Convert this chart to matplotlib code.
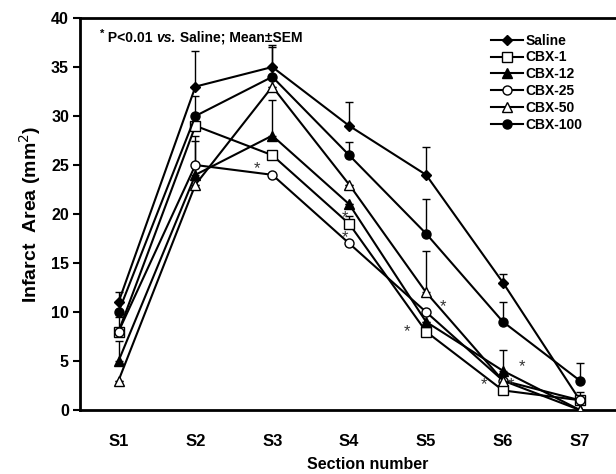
import matplotlib
matplotlib.use("Agg")
import matplotlib.pyplot as plt
import numpy as np

sections = ["S1", "S2", "S3", "S4", "S5", "S6", "S7"]
series_names = ["Saline", "CBX-1", "CBX-12", "CBX-25", "CBX-50", "CBX-100"]
saline = [11, 33, 35, 29, 24, 13, 1]
cbx1 = [8, 29, 26, 19, 8, 2, 1]
cbx12 = [5, 24, 28, 21, 9, 4, 0]
cbx25 = [8, 25, 24, 17, 10, 3, 1]
cbx50 = [3, 23, 33, 23, 12, 3, 0]
cbx100 = [10, 30, 34, 26, 18, 9, 3]
# upper SEM
saline_err = [1.0, 3.6, 2.2, 2.4, 2.8, 0.9, 0.0]
cbx1_err = [1.5, 0.0, 0.0, 0.8, 0.0, 0.4, 0.0]
cbx12_err = [2.0, 3.5, 3.6, 0.0, 0.0, 2.1, 0.0]
cbx25_err = [0.0, 3.0, 0.0, 0.0, 0.0, 0.0, 0.8]
cbx50_err = [0.0, 0.0, 0.0, 0.0, 4.2, 0.0, 0.0]
cbx100_err = [1.0, 2.0, 3.0, 1.3, 3.5, 2.0, 1.8]

# significance stars (section index, y position, x offset)
star_x = [3, 4, 4, 5, 5, 6, 6, 6]
star_y = [24.6, 19.6, 17.6, 8.0, 10.6, 2.6, 4.4, 2.6]
star_dx = [-0.2, -0.05, -0.05, -0.25, 0.22, -0.25, 0.25, 0.1]

series = [saline, cbx1, cbx12, cbx25, cbx50, cbx100]
errs = [saline_err, cbx1_err, cbx12_err, cbx25_err, cbx50_err, cbx100_err]
markers = ["D", "s", "^", "o", "^", "o"]
faces = ["black", "white", "black", "white", "white", "black"]
msizes = [5.5, 6.5, 6.5, 6.5, 7, 6.5]

plt.rcParams['font.family'] = ['Liberation Sans', 'DejaVu Sans']
fig = plt.figure(figsize=(6.16, 4.74), dpi=100)
ax = fig.add_axes([0.13, 0.135, 0.87, 0.827])
x = np.arange(1, len(sections) + 1)

for name, y, e, m, fc, ms in zip(series_names, series, errs, markers, faces, msizes):
    ax.errorbar(x, y, yerr=[np.zeros(len(e)), e], fmt='none', ecolor='black',
                elinewidth=1.0, capsize=3, capthick=1.0, zorder=2)
    ax.plot(x, y, color='black', lw=1.5, marker=m, markerfacecolor=fc,
            markeredgecolor='black', markersize=ms, markeredgewidth=1.0,
            label=name, zorder=3)

for sx, sy, dx in zip(star_x, star_y, star_dx):
    ax.text(sx + dx, sy, "*", ha='center', va='center', fontsize=12, color='#333333')

ax.set_xlim(0.5, 7.47)
ax.set_ylim(0, 40)
ax.set_yticks(range(0, 41, 5))
ax.set_xticks(x)
ax.set_xticklabels(sections)
ax.tick_params(axis='x', length=0, pad=17, labelsize=12)
ax.tick_params(axis='y', length=5, width=1.5, direction='out', labelsize=11.5, pad=3)
for lbl in ax.get_xticklabels() + ax.get_yticklabels():
    lbl.set_fontweight('bold')
for sp in ['left', 'bottom', 'top']:
    ax.spines[sp].set_linewidth(2)
ax.spines['right'].set_visible(False)

ax.set_ylabel("Infarct  Area (mm$^2$)", fontsize=14, fontweight='bold', labelpad=6)
ax.set_xlabel("Section number", fontsize=11.5, fontweight='bold')
ax.xaxis.label.set_va('center')
ax.xaxis.set_label_coords(0.537, -0.14)

# annotation with italic "vs."
ty = 0.967
t0 = ax.text(0.037, ty + 0.005, "*", transform=ax.transAxes, fontsize=8,
             fontweight='bold', va='top', ha='left')
fig.canvas.draw()
bb = t0.get_window_extent().transformed(ax.transAxes.inverted())
t1 = ax.text(bb.x1, ty, " P<0.01 ", transform=ax.transAxes, fontsize=10,
             fontweight='bold', va='top', ha='left')
fig.canvas.draw()
bb = t1.get_window_extent().transformed(ax.transAxes.inverted())
t2 = ax.text(bb.x1, ty, "vs.", transform=ax.transAxes, fontsize=10,
             fontweight='bold', style='italic', va='top', ha='left')
fig.canvas.draw()
bb2 = t2.get_window_extent().transformed(ax.transAxes.inverted())
ax.text(bb2.x1, ty, " Saline; Mean\u00b1SEM", transform=ax.transAxes, fontsize=10,
        fontweight='bold', va='top', ha='left')

leg = ax.legend(loc='upper left', bbox_to_anchor=(0.767, 0.96), frameon=False,
                prop={'weight': 'bold', 'size': 10}, handlelength=2.3,
                handletextpad=0.2, labelspacing=0.2, borderaxespad=0, borderpad=0)

fig.savefig("out.png", dpi=100)
